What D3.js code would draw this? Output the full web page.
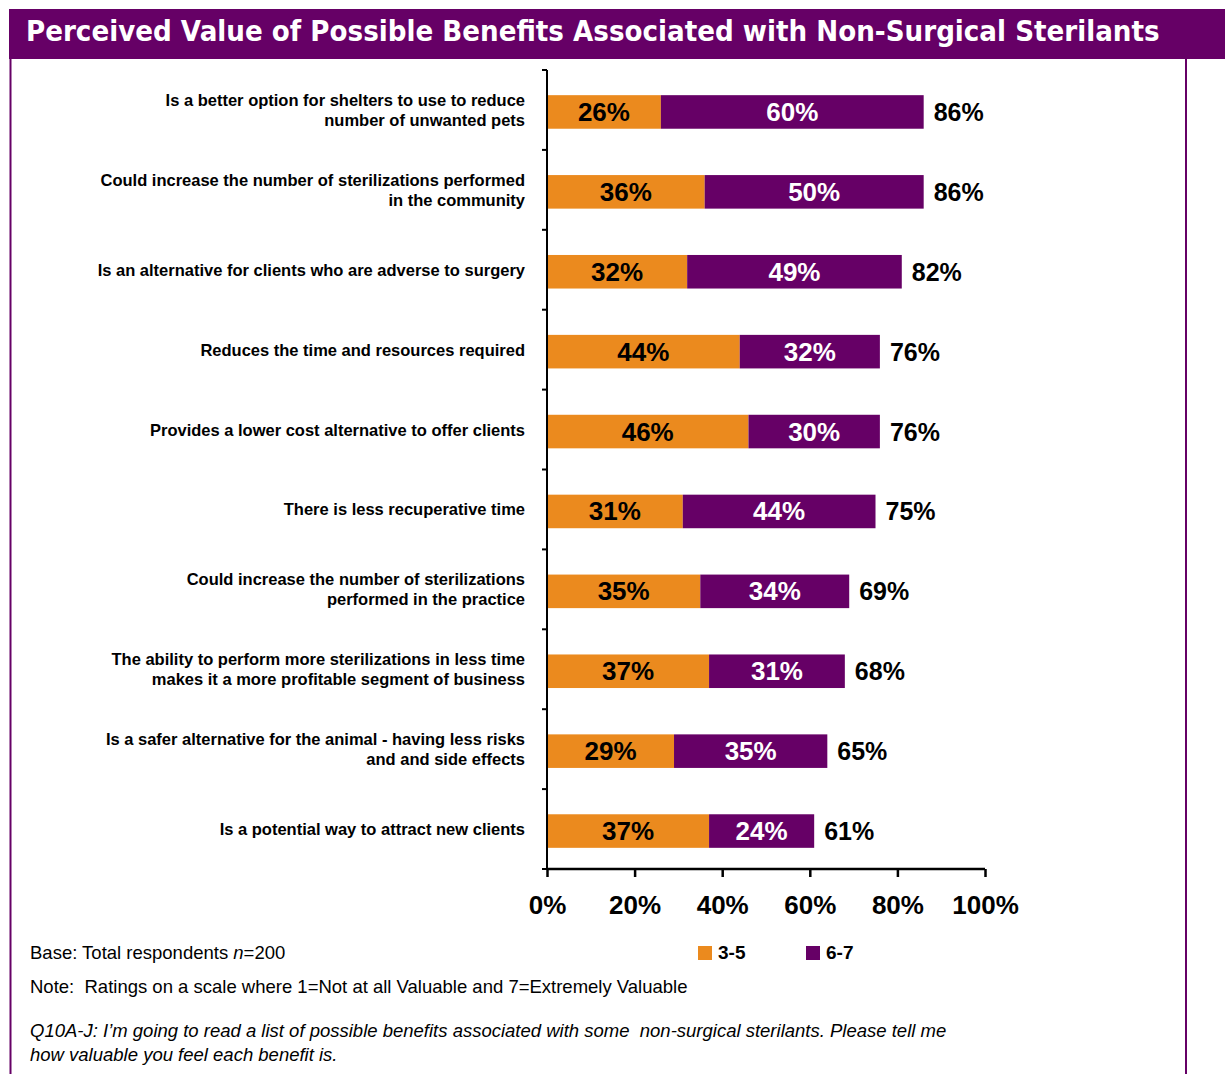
<!DOCTYPE html>
<html>
<head>
<meta charset="utf-8">
<script src="https://cdn.jsdelivr.net/npm/d3@7"></script>
<style>
  body { margin: 0; background: #fff; }
  svg { display: block; }
  text { white-space: pre; }
</style>
</head>
<body>
<svg id="chart" width="1225" height="1074"></svg>
<script>
// data
const categories = [
  ['Is a better option for shelters to use to reduce', 'number of unwanted pets'],
  ['Could increase the number of sterilizations performed', 'in the community'],
  ['Is an alternative for clients who are adverse to surgery'],
  ['Reduces the time and resources required'],
  ['Provides a lower cost alternative to offer clients'],
  ['There is less recuperative time'],
  ['Could increase the number of sterilizations', 'performed in the practice'],
  ['The ability to perform more sterilizations in less time', 'makes it a more profitable segment of business'],
  ['Is a safer alternative for the animal - having less risks', 'and and side effects'],
  ['Is a potential way to attract new clients']
]
const series35 = [26, 36, 32, 44, 46, 31, 35, 37, 29, 37]
const series67 = [60, 50, 49, 32, 30, 44, 34, 31, 35, 24]
const totals = [86, 86, 82, 76, 76, 75, 69, 68, 65, 61]
const xTicks = [0, 20, 40, 60, 80, 100]
const seriesNames = ['3-5', '6-7']

const purple = '#660066'
const orange = '#EB8A1E'
const font = 'Liberation Sans, Arial, sans-serif'

let svg = d3.select('#chart')

// рамка и заголовок
svg.append('rect').attr('x', 9).attr('y', 9).attr('width', 1216).attr('height', 50).attr('fill', purple)
svg.append('line').attr('x1', 10.5).attr('x2', 10.5).attr('y1', 59).attr('y2', 1074)
  .attr('stroke', purple).attr('stroke-width', 2)
svg.append('line').attr('x1', 1186).attr('x2', 1186).attr('y1', 59).attr('y2', 1074)
  .attr('stroke', purple).attr('stroke-width', 2)
let title = svg.append('text')
  .attr('x', 0).attr('y', 0)
  .attr('fill', '#fff')
  .style('font-family', 'DejaVu Sans, Verdana, sans-serif')
  .style('font-size', '29px')
  .style('font-weight', 'bold')
  .text('Perceived Value of Possible Benefits Associated with Non-Surgical Sterilants')
// сжать заголовок по ширине
let titleW = title.node().getComputedTextLength()
title.attr('transform', 'translate(26,41) scale(' + (1134 / titleW) + ',1)')

let x0 = 547
let topY = 70
let bottomY = 869

let x = d3.scaleLinear().domain([0, 100]).range([x0, 985])
let y = d3.scaleBand()
  .domain(d3.range(categories.length))
  .range([topY + 2, bottomY + 2])
  .paddingInner(0.58)
  .paddingOuter(0.29)

let rows = svg.append('g').selectAll('g.row')
  .data(categories.map((c, i) => ({ lines: c, a: series35[i], b: series67[i], t: totals[i], i: i })))
  .enter()
  .append('g')
  .attr('class', 'row')

// столбцы
rows.append('rect')
  .attr('x', x(0))
  .attr('y', d => y(d.i))
  .attr('width', d => x(d.a) - x(0))
  .attr('height', y.bandwidth())
  .attr('fill', orange)
rows.append('rect')
  .attr('x', d => x(d.a))
  .attr('y', d => y(d.i))
  .attr('width', d => x(d.a + d.b) - x(d.a))
  .attr('height', y.bandwidth())
  .attr('fill', purple)

// подписи значений
let mid = d => y(d.i) + y.bandwidth() / 2 + 9
rows.append('text')
  .attr('x', d => (x(0) + x(d.a)) / 2)
  .attr('y', mid)
  .attr('text-anchor', 'middle')
  .attr('fill', '#000')
  .style('font', 'bold 26px ' + font)
  .text(d => d.a + '%')
rows.append('text')
  .attr('x', d => (x(d.a) + x(d.a + d.b)) / 2)
  .attr('y', mid)
  .attr('text-anchor', 'middle')
  .attr('fill', '#fff')
  .style('font', 'bold 26px ' + font)
  .text(d => d.b + '%')
rows.append('text')
  .attr('x', d => x(d.a + d.b) + 10)
  .attr('y', mid)
  .attr('fill', '#000')
  .style('font', 'bold 25px ' + font)
  .text(d => d.t + '%')

// категории
rows.append('text')
  .attr('text-anchor', 'end')
  .style('font', 'bold 16.5px ' + font)
  .attr('fill', '#000')
  .each(function (d) {
    let cy = y(d.i) + y.bandwidth() / 2
    let n = d.lines.length
    d3.select(this).selectAll('tspan')
      .data(d.lines)
      .enter()
      .append('tspan')
      .attr('x', 525)
      .attr('y', (l, k) => cy + 5 + (k - (n - 1) / 2) * 20 - 1)
      .text(l => l)
  })

// ось y
let axisG = svg.append('g').attr('stroke', '#000').attr('stroke-width', 2)
axisG.append('line').attr('x1', x0).attr('x2', x0).attr('y1', topY).attr('y2', bottomY)
let step = (bottomY - topY) / categories.length
d3.range(categories.length + 1).forEach(k => {
  axisG.append('line')
    .attr('x1', x0 - 5).attr('x2', x0)
    .attr('y1', topY + k * step).attr('y2', topY + k * step)
})

// ось x
let xAxis = d3.axisBottom(x).tickValues(xTicks).tickSize(8).tickFormat(d => d + '%')
let gX = svg.append('g')
  .attr('transform', 'translate(0,' + bottomY + ')')
  .call(xAxis)
gX.select('.domain').attr('stroke', '#000').attr('stroke-width', 2.5).attr('d', 'M' + x(0) + ',0H' + x(100))
gX.selectAll('.tick line').attr('stroke', '#000').attr('stroke-width', 2.5)
gX.selectAll('.tick text')
  .attr('y', 27)
  .attr('dy', '0.71em')
  .attr('fill', '#000')
  .style('font', 'bold 26px ' + font)

// легенда
let legendX = [698, 806]
let legendColors = [orange, purple]
seriesNames.forEach((s, k) => {
  svg.append('rect').attr('x', legendX[k]).attr('y', 946).attr('width', 14).attr('height', 14).attr('fill', legendColors[k])
  svg.append('text').attr('x', legendX[k] + 20).attr('y', 959)
    .style('font', 'bold 19px ' + font).attr('fill', '#000').text(s)
})

// сноски
let base = svg.append('text').attr('x', 30).attr('y', 959).style('font', '18.5px ' + font).attr('fill', '#000')
base.append('tspan').text('Base: Total respondents ')
base.append('tspan').style('font-style', 'italic').text('n')
base.append('tspan').text('=200')
svg.append('text').attr('x', 30).attr('y', 993).style('font', '18.5px ' + font).attr('fill', '#000')
  .text('Note:  Ratings on a scale where 1=Not at all Valuable and 7=Extremely Valuable')
svg.append('text').attr('x', 30).attr('y', 1037).style('font', 'italic 18.5px ' + font).attr('fill', '#000')
  .text('Q10A-J: I\u2019m going to read a list of possible benefits associated with some  non-surgical sterilants. Please tell me')
svg.append('text').attr('x', 30).attr('y', 1061).style('font', 'italic 18.5px ' + font).attr('fill', '#000')
  .text('how valuable you feel each benefit is.')
</script>
</body>
</html>
